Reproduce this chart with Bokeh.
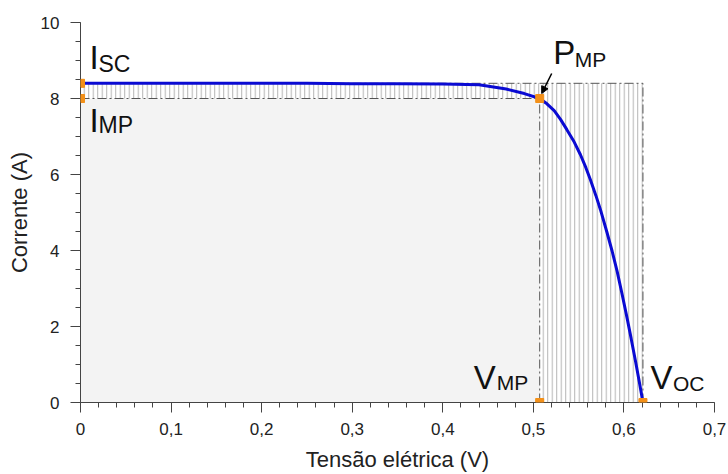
from bokeh.plotting import figure
from bokeh.models import Range1d, FixedTicker, SingleIntervalTicker, Arrow, NormalHead
from bokeh.core.properties import value
from bokeh.embed import file_html
from bokeh.resources import INLINE

# ---- data ----
voltage = [0.000, 0.050, 0.100, 0.150, 0.200, 0.250, 0.300, 0.350, 0.400, 0.440,
           0.470, 0.490, 0.507, 0.515, 0.523, 0.530, 0.537, 0.545, 0.552, 0.558,
           0.563, 0.569, 0.574, 0.581, 0.587, 0.5925, 0.598, 0.6035, 0.608, 0.613,
           0.617, 0.621]
current = [8.40, 8.40, 8.40, 8.40, 8.40, 8.40, 8.39, 8.39, 8.38, 8.36,
           8.25, 8.13, 8.00, 7.86, 7.68, 7.45, 7.18, 6.86, 6.52, 6.18,
           5.86, 5.45, 5.08, 4.50, 3.98, 3.45, 2.85, 2.22, 1.68, 1.06,
           0.54, 0.00]
I_SC = 8.40
I_MP = 8.00
V_MP = 0.507
V_OC = 0.621

x_ticks = [0.0, 0.1, 0.2, 0.3, 0.4, 0.5, 0.6, 0.7]
x_tick_labels = ["0", "0,1", "0,2", "0,3", "0,4", "0,5", "0,6", "0,7"]
x_minor = [round(i * 0.02, 2) for i in range(36)]

FONT = value("Liberation Sans")
ORANGE = "#f39019"

# pixel -> data helpers (frame: 634 px for 0.7 V, 38 px per A)
PXV = 0.7 / 634.0
PXI = 10.0 / 380.0

p = figure(width=728, height=474,
           x_range=Range1d(0, 0.7), y_range=Range1d(0, 10.0),
           output_backend="svg", toolbar_location=None,
           min_border_left=80, min_border_right=14, min_border_top=22, min_border_bottom=72)
p.outline_line_color = None
p.xgrid.grid_line_color = None
p.ygrid.grid_line_color = None
p.background_fill_color = "white"

# hatched rectangle Voc x Isc
p.quad(left=[0], right=[V_OC], bottom=[0], top=[I_SC], fill_color="white",
       line_color=None, hatch_pattern="vertical_line", hatch_scale=4.5,
       hatch_color="#b4b4b4", hatch_weight=1)
# grey rectangle Vmp x Imp
p.quad(left=[0], right=[V_MP], bottom=[0], top=[I_MP], fill_color="#f3f3f3",
       line_color=None)

dash = "9 3 2 3"
dcol = "#555555"
p.line([0, V_OC], [I_SC, I_SC], line_color=dcol, line_width=1, line_dash=dash)
p.line([V_OC, V_OC], [0, I_SC], line_color=dcol, line_width=1, line_dash=dash)
p.line([0, V_MP], [I_MP, I_MP], line_color=dcol, line_width=1, line_dash=dash)
p.line([V_MP, V_MP], [0, I_MP], line_color=dcol, line_width=1, line_dash=dash)

# I-V curve
p.line(voltage, current, line_color="#0a0ad2", line_width=3)

# key points (Isc, Imp, Pmp, Vmp, Voc)
pts_x = [0, 0, V_MP, V_MP, V_OC]
pts_y = [I_SC, I_MP, I_MP, 0, 0]
p.scatter(pts_x, pts_y, marker="square", size=8, fill_color=ORANGE, line_color=ORANGE)
# the points lying on the axes are repeated as unclipped 8 px squares
for px_, py_ in zip(pts_x, pts_y):
    if px_ == 0 or py_ == 0:
        p.add_layout(Arrow(start=None, end=None,
                           x_start=px_ - 4 * PXV, y_start=py_,
                           x_end=px_ + 4 * PXV, y_end=py_,
                           line_color=ORANGE, line_width=8, line_cap="butt"))

def label(x0, y0, dxp, dyp, txt, size):
    p.text(x=[x0 + dxp * PXV], y=[y0 + dyp * PXI], text=[txt], text_font=FONT,
           text_font_size=size, text_align="left", text_baseline="alphabetic",
           text_color="#111111")

BIG = "33px"
SUB = "23px"
SUB2 = "21px"
label(0, I_SC, 9, 26, "I", BIG)
label(0, I_SC, 18, 19, "SC", SUB)
label(0, I_MP, 9, -22, "I", BIG)
label(0, I_MP, 18, -26, "MP", SUB)
label(V_MP, I_MP, 13.5, 46, "P", BIG)
label(V_MP, I_MP, 35, 39, "MP", SUB2)
label(V_MP, 0, -66, 25, "V", BIG)
label(V_MP, 0, -43, 20, "MP", SUB2)
label(V_OC, 0, 7.5, 25, "V", BIG)
label(V_OC, 0, 30, 19, "OC", SUB2)

p.add_layout(Arrow(end=NormalHead(size=7, fill_color="black", line_color="black"),
                   x_start=V_MP + 12 * PXV, y_start=I_MP + 25 * PXI,
                   x_end=V_MP + 2 * PXV, y_end=I_MP + 5 * PXI,
                   line_color="black", line_width=1.5))

# axes
xa = p.xaxis[0]
ya = p.yaxis[0]
xa.ticker = FixedTicker(ticks=x_ticks, minor_ticks=x_minor)
xa.major_label_overrides = dict(zip(x_ticks, x_tick_labels))
ya.ticker = SingleIntervalTicker(interval=2, num_minor_ticks=4)
for ax in (xa, ya):
    ax.axis_line_color = "#444444"
    ax.major_tick_line_color = "#444444"
    ax.minor_tick_line_color = "#444444"
    ax.major_tick_out = 10
    ax.major_tick_in = 0
    ax.minor_tick_out = 5
    ax.minor_tick_in = 0
    ax.major_label_text_font = "Liberation Sans"
    ax.major_label_text_font_size = "17px"
    ax.major_label_text_color = "#222222"
    ax.axis_label_text_font = "Liberation Sans"
    ax.axis_label_text_font_size = "22px"
    ax.axis_label_text_font_style = "normal"
    ax.axis_label_text_color = "#222222"
xa.major_label_standoff = 10
ya.major_label_standoff = 11
xa.axis_label = "Tensão elétrica (V)"
ya.axis_label = "Corrente (A)"
xa.axis_label_standoff = 9
ya.axis_label_standoff = 6

open("out.html", "w").write(file_html(p, INLINE))
